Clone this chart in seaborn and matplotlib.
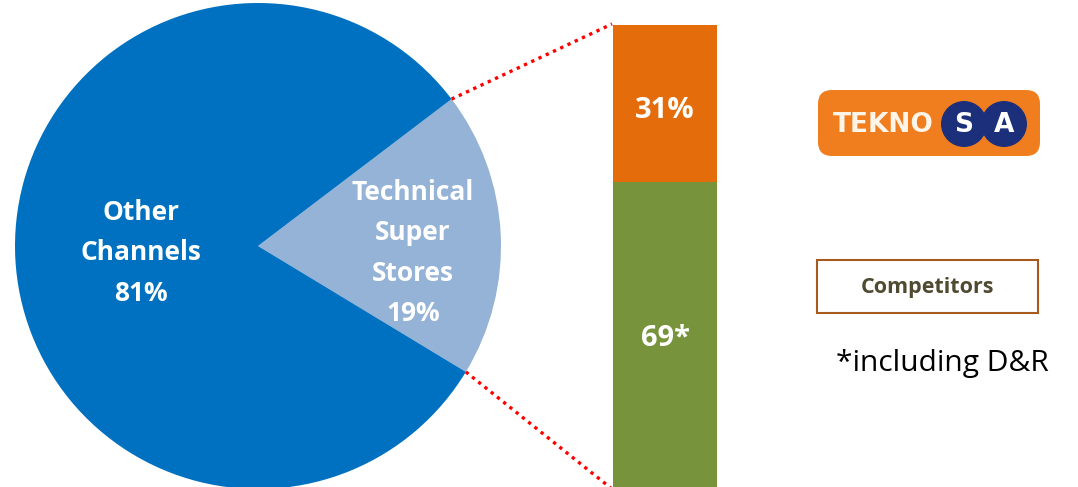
import numpy as np
import pandas as pd
import matplotlib
matplotlib.use("Agg")
import matplotlib.pyplot as plt
import seaborn as sns
from matplotlib.patches import FancyBboxPatch, Rectangle, Circle

sns.set_theme(style="white")
plt.rcParams['font.family'] = ['Open Sans', 'DejaVu Sans']

# ---- data ----
pie_labels = ["Technical\nSuper\nStores\n19%", "Other\nChannels\n81%"]
pie_values = [19, 81]
bar_segments = ["Competitors", "Teknosa"]
bar_values = [69, 31]
bar_labels = ["69*", "31%"]
note_text = "*including D&R"
legend_box_text = "Competitors"
logo_text = ["TEKNO", "S", "A"]

W, H = 1078, 487
fig = plt.figure(figsize=(W / 100, H / 100), dpi=100)

# overlay axes in pixel coords (y up)
ax = fig.add_axes([0, 0, 1, 1])
ax.set_xlim(0, W)
ax.set_ylim(0, H)
ax.axis("off")

# ---- pie ----
cx, cy, r = 258, 241, 243
mid_angle = 3
start = mid_angle - pie_values[0] / 100 * 360 / 2
wedges, _ = ax.pie(pie_values, colors=["#95B3D7", "#0070C0"], startangle=start,
                   counterclock=True, center=(cx, cy), radius=r, frame=True,
                   wedgeprops=dict(linewidth=0))
ax.set_xlim(0, W)
ax.set_ylim(0, H)
ax.set_aspect("auto")
ax.axis("off")

ax.text(413, 487 - 253, pie_labels[0], color="white", fontsize=19, fontweight="bold",
        ha="center", va="center", linespacing=1.62)
ax.text(141, 487 - 253, pie_labels[1], color="white", fontsize=19, fontweight="bold",
        ha="center", va="center", linespacing=1.62)

# ---- connector lines ----
a1 = np.deg2rad(start + pie_values[0] / 100 * 360)
a0 = np.deg2rad(start)
p_top = (cx + r * np.cos(a1), cy + r * np.sin(a1))
p_bot = (cx + r * np.cos(a0), cy + r * np.sin(a0))
ax.plot([p_top[0], 612], [p_top[1], 487 - 24], color="#FF0000", lw=2.4,
        linestyle=(0, (1, 1.4)), zorder=5)
ax.plot([p_bot[0], 612], [p_bot[1], -2], color="#FF0000", lw=2.4,
        linestyle=(0, (1, 1.4)), zorder=5)

# ---- stacked bar (seaborn) ----
bar_top_px, bar_h_px = 25, 506
bx = fig.add_axes([613 / W, (H - bar_top_px - bar_h_px) / H, 104 / W, bar_h_px / H])
df_total = pd.DataFrame({"x": ["bar"], "y": [sum(bar_values)]})
df_low = pd.DataFrame({"x": ["bar"], "y": [bar_values[0]]})
sns.barplot(data=df_total, x="x", y="y", color="#E46C0A", width=1.0, ax=bx,
            saturation=1, linewidth=0)
sns.barplot(data=df_low, x="x", y="y", color="#77933C", width=1.0, ax=bx,
            saturation=1, linewidth=0)
bx.set_xlim(-0.5, 0.5)
bx.set_ylim(0, 100)
bx.axis("off")
bx.text(0, 100 - (111 - bar_top_px) / bar_h_px * 100, bar_labels[1], color="white",
        fontsize=21, fontweight="bold", ha="center", va="center")
bx.text(0, 100 - (338 - bar_top_px) / bar_h_px * 100, bar_labels[0], color="white",
        fontsize=21, fontweight="bold", ha="center", va="center")

# ---- logo ----
logo = FancyBboxPatch((818, 487 - 156), 222, 66, boxstyle="round,pad=0,rounding_size=14",
                      facecolor="#F07D1E", edgecolor="none", zorder=3)
ax.add_patch(logo)
ax.text(883, 487 - 125, logo_text[0], color="#FFF4E8", fontsize=19, fontweight="heavy",
        ha="center", va="center", zorder=4, family="DejaVu Sans")
for xc in (964, 1004):
    ax.add_patch(Circle((xc, 487 - 124), 23, facecolor="#1C2F7A", edgecolor="none", zorder=4))
for xc, ch in [(964, logo_text[1]), (1004, logo_text[2])]:
    ax.text(xc, 487 - 125, ch, color="white", fontsize=19, fontweight="heavy",
            ha="center", va="center", zorder=5, family="DejaVu Sans")

# ---- competitors box ----
ax.add_patch(Rectangle((817, 487 - 313), 221, 53, facecolor="white",
                       edgecolor="#A65A1E", lw=1.5, zorder=3))
ax.text(928, 487 - 288, legend_box_text, color="#4F4A30", fontsize=15.5,
        fontweight="bold", ha="center", va="center", zorder=4)

# ---- note ----
ax.text(836, 487 - 364, note_text, color="black", fontsize=21.5,
        ha="left", va="center")

fig.savefig("out.png", dpi=100)
